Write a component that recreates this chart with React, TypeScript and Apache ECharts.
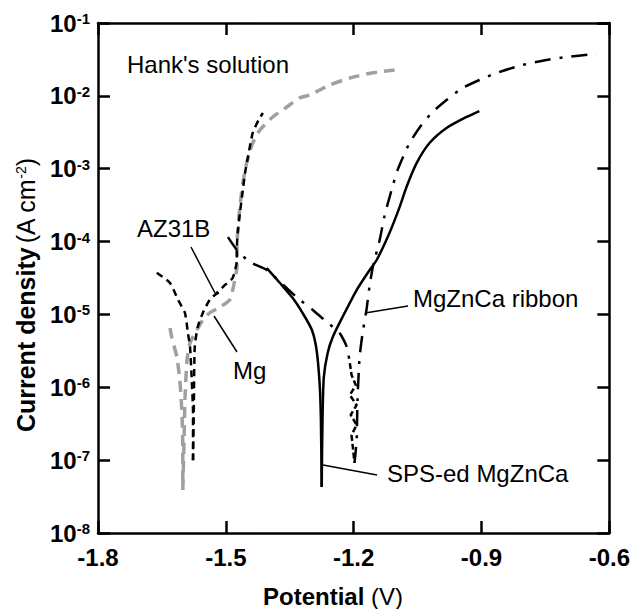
import React, { useEffect, useRef } from "react";
import * as echarts from "echarts";

const FONT = "'Liberation Sans', Arial, Helvetica, sans-serif";

const xTicks = [-1.8, -1.5, -1.2, -0.9, -0.6];
const yMin = 1e-8;
const yMax = 1e-1;

// AZ31B (black short dashes): cathodic branch down to Ecorr, anodic branch up
const az31bCathV = [-1.662, -1.631, -1.612, -1.596, -1.589, -1.584, -1.58, -1.577, -1.577];
const az31bCathI = [3.74e-5, 2.7e-5, 1.58e-5, 1.05e-5, 5.56e-6, 3.57e-6, 1.26e-6, 4.44e-7, 1.0e-7];
const az31bAnodV = [-1.577, -1.575, -1.573, -1.566, -1.554, -1.538, -1.521, -1.502, -1.484, -1.474, -1.474, -1.472, -1.467, -1.46, -1.455, -1.448, -1.437, -1.423, -1.413];
const az31bAnodI = [1.0e-7, 6.0e-7, 3.57e-6, 6.72e-6, 1.05e-5, 1.58e-5, 1.97e-5, 2.54e-5, 3.16e-5, 5.58e-5, 8.41e-5, 1.31e-4, 2.47e-4, 5.11e-4, 8.73e-4, 1.45e-3, 3.09e-3, 4.67e-3, 5.82e-3];

// Mg (grey dashes)
const mgCathV = [-1.631, -1.627, -1.615, -1.608, -1.603, -1.601, -1.601];
const mgCathI = [6.52e-6, 4.9e-6, 2.61e-6, 1.26e-6, 4.44e-7, 1.51e-7, 3.89e-8];
const mgAnodV = [-1.601, -1.598, -1.596, -1.591, -1.584, -1.568, -1.554, -1.538, -1.514, -1.491, -1.484, -1.479, -1.474, -1.474, -1.472, -1.467, -1.46, -1.451, -1.437, -1.42, -1.39, -1.357, -1.327, -1.303, -1.256, -1.209, -1.158, -1.104];
const mgAnodI = [3.89e-8, 1.89e-7, 6.68e-7, 2.37e-6, 4.06e-6, 6.11e-6, 8.39e-6, 1.05e-5, 1.26e-5, 1.58e-5, 2.16e-5, 2.97e-5, 4.48e-5, 6.97e-5, 1.44e-4, 2.99e-4, 6.37e-4, 1.2e-3, 2.25e-3, 3.4e-3, 5.13e-3, 7.03e-3, 9.35e-3, 1.03e-2, 1.41e-2, 1.76e-2, 2.06e-2, 2.26e-2];

// SPS-ed MgZnCa (solid)
const spsCathV = [-1.404, -1.373, -1.343, -1.32, -1.298, -1.287, -1.28, -1.277, -1.275];
const spsCathI = [4.33e-5, 2.7e-5, 1.68e-5, 1.05e-5, 6.11e-6, 3.25e-6, 1.15e-6, 3.91e-7, 4.28e-8];
const spsAnodV = [-1.275, -1.273, -1.27, -1.261, -1.249, -1.226, -1.193, -1.1625, -1.146, -1.116, -1.092, -1.076, -1.052, -1.022, -0.982, -0.935, -0.905];
const spsAnodI = [4.28e-8, 3.91e-7, 1.38e-6, 2.96e-6, 4.9e-6, 9.23e-6, 2.16e-5, 4.07e-5, 5.58e-5, 1.31e-4, 2.99e-4, 5.61e-4, 1.2e-3, 2.25e-3, 3.62e-3, 5.13e-3, 6.19e-3];

// MgZnCa ribbon (dash-dot): cathodic branch, noisy region near Ecorr, anodic branch
const ribbonCathV = [-1.495, -1.474, -1.444, -1.404, -1.334, -1.296, -1.263, -1.233, -1.216, -1.209];
const ribbonCathI = [1.15e-4, 7.66e-5, 5.25e-5, 4.07e-5, 1.73e-5, 1.15e-5, 7.87e-6, 5.56e-6, 3.57e-6, 2.15e-6];
const ribbonNoiseV = [-1.209, -1.205, -1.195, -1.209, -1.193, -1.207, -1.193, -1.205, -1.198];
const ribbonNoiseI = [2.15e-6, 1.48e-6, 1.07e-6, 7.83e-7, 5.71e-7, 4.17e-7, 3.04e-7, 2.21e-7, 9.14e-8];
const ribbonAnodV = [-1.198, -1.193, -1.191, -1.186, -1.179, -1.17, -1.163, -1.155, -1.139, -1.127, -1.111, -1.097, -1.069, -1.041, -1.015, -0.982, -0.945, -0.905, -0.865, -0.804, -0.748, -0.701, -0.63];
const ribbonAnodI = [9.14e-8, 1.89e-7, 6.68e-7, 2.61e-6, 5.56e-6, 1.15e-5, 2.38e-5, 4.48e-5, 1.05e-4, 2.32e-4, 5.11e-4, 9.59e-4, 2.25e-3, 3.98e-3, 6.0e-3, 8.77e-3, 1.28e-2, 1.65e-2, 2.06e-2, 2.65e-2, 3.1e-2, 3.41e-2, 3.76e-2];

const pairs = (v: number[], i: number[]) => v.map((x, k) => [x, i[k]]);

export default function App() {
  const ref = useRef<HTMLDivElement>(null);
  useEffect(() => {
    if (!ref.current) return;
    const chart = echarts.init(ref.current, null, { renderer: "svg" });
    const axisLine = { show: true, lineStyle: { color: "#000", width: 2.5 } };
    const axisTick = { show: true, inside: true, length: 12, lineStyle: { color: "#000", width: 2.5 } };
    const ann = (text: string, x: number, y: number) => ({
      type: "text",
      x,
      y,
      style: { text, fill: "#000", font: `24px ${FONT}`, align: "left", verticalAlign: "middle" },
    });
    const leader = (x1: number, y1: number, x2: number, y2: number) => ({
      type: "line",
      shape: { x1, y1, x2, y2 },
      style: { stroke: "#000", lineWidth: 1.5 },
    });
    const grey = { color: "#a0a0a0", width: 3.5, type: [11, 7] };
    const dashed = { color: "#000", width: 2.5, type: [7, 5] };
    const solid = { color: "#000", width: 2.5, type: "solid" };
    const dashDot = { color: "#000", width: 2.5, type: [16, 9, 3, 9] };
    const line = (name: string, v: number[], i: number[], lineStyle: any, smooth: number, z: number) => ({
      name,
      type: "line",
      data: pairs(v, i),
      showSymbol: false,
      symbol: "none",
      smooth,
      lineStyle,
      z,
    });
    chart.setOption({
      animation: false,
      backgroundColor: "#fff",
      grid: { left: 98, top: 23, width: 512, height: 510, containLabel: false },
      xAxis: [
        {
          type: "value",
          min: xTicks[0],
          max: xTicks[xTicks.length - 1],
          interval: 0.3,
          axisLine,
          axisTick,
          splitLine: { show: false },
          axisLabel: {
            margin: 12,
            color: "#000",
            fontSize: 24,
            fontWeight: "bold",
            fontFamily: FONT,
            formatter: (v: number) => v.toFixed(1),
          },
        },
        {
          type: "value",
          position: "top",
          min: xTicks[0],
          max: xTicks[xTicks.length - 1],
          interval: 0.3,
          axisLine,
          axisTick,
          splitLine: { show: false },
          axisLabel: { show: false },
        },
      ],
      yAxis: [
        {
          type: "log",
          logBase: 10,
          min: yMin,
          max: yMax,
          axisLine,
          axisTick,
          splitLine: { show: false },
          axisLabel: {
            margin: 8,
            color: "#000",
            fontFamily: FONT,
            formatter: (v: number) => `{b|10}{s|${Math.round(Math.log10(v))}}`,
            rich: {
              b: { fontSize: 24, fontWeight: "bold", fontFamily: FONT, color: "#000" },
              s: { fontSize: 15, fontWeight: "bold", fontFamily: FONT, color: "#000", verticalAlign: "top", lineHeight: 12 },
            },
          },
        },
        {
          type: "log",
          logBase: 10,
          position: "right",
          min: yMin,
          max: yMax,
          axisLine,
          axisTick,
          splitLine: { show: false },
          axisLabel: { show: false },
        },
      ],
      graphic: [
        {
          type: "text",
          x: 26,
          y: 295,
          rotation: Math.PI / 2,
          style: {
            text: "{b|Current density} {r|(A cm}{s|-2}{r|)}",
            align: "center",
            verticalAlign: "middle",
            fill: "#000",
            rich: {
              b: { fontSize: 25, fontWeight: "bold", fontFamily: FONT, fill: "#000" },
              r: { fontSize: 25, fontFamily: FONT, fill: "#000" },
              s: { fontSize: 14, fontFamily: FONT, fill: "#000", verticalAlign: "top", lineHeight: 12 },
            },
          },
        },
        {
          type: "text",
          x: 333,
          y: 596,
          style: {
            text: "{b|Potential}{r| (V)}",
            align: "center",
            verticalAlign: "middle",
            fill: "#000",
            rich: {
              b: { fontSize: 24, fontWeight: "bold", fontFamily: FONT, fill: "#000" },
              r: { fontSize: 24, fontFamily: FONT, fill: "#000" },
            },
          },
        },
        ann("Hank's solution", 127, 64.5),
        ann("AZ31B", 137, 228),
        ann("Mg", 233, 370),
        ann("MgZnCa ribbon", 413, 298.5),
        ann("SPS-ed MgZnCa", 387, 473.5),
        leader(191, 247, 215, 293),
        leader(213, 296, 219, 293),
        leader(214, 316, 237, 352),
        leader(365, 313, 408, 306),
        leader(323, 465, 377, 475),
      ],
      series: [
        line("Mg", mgCathV, mgCathI, grey, 0.2, 2),
        line("Mg", mgAnodV, mgAnodI, grey, 0.2, 2),
        line("AZ31B", az31bCathV, az31bCathI, dashed, 0.2, 3),
        line("AZ31B", az31bAnodV, az31bAnodI, dashed, 0.2, 3),
        line("SPS-ed MgZnCa", spsCathV, spsCathI, solid, 0.25, 3),
        line("SPS-ed MgZnCa", spsAnodV, spsAnodI, solid, 0.25, 3),
        line("MgZnCa ribbon", ribbonCathV, ribbonCathI, dashDot, 0.2, 3),
        line("MgZnCa ribbon", ribbonNoiseV, ribbonNoiseI, { color: "#000", width: 2.5, type: [6, 3] }, 0, 3),
        line("MgZnCa ribbon", ribbonAnodV, ribbonAnodI, dashDot, 0.2, 3),
      ],
    });
    return () => chart.dispose();
  }, []);
  return (
    <div
      ref={ref}
      style={{ position: "fixed", left: 0, top: 0, width: 633, height: 609, background: "#fff" }}
    />
  );
}
